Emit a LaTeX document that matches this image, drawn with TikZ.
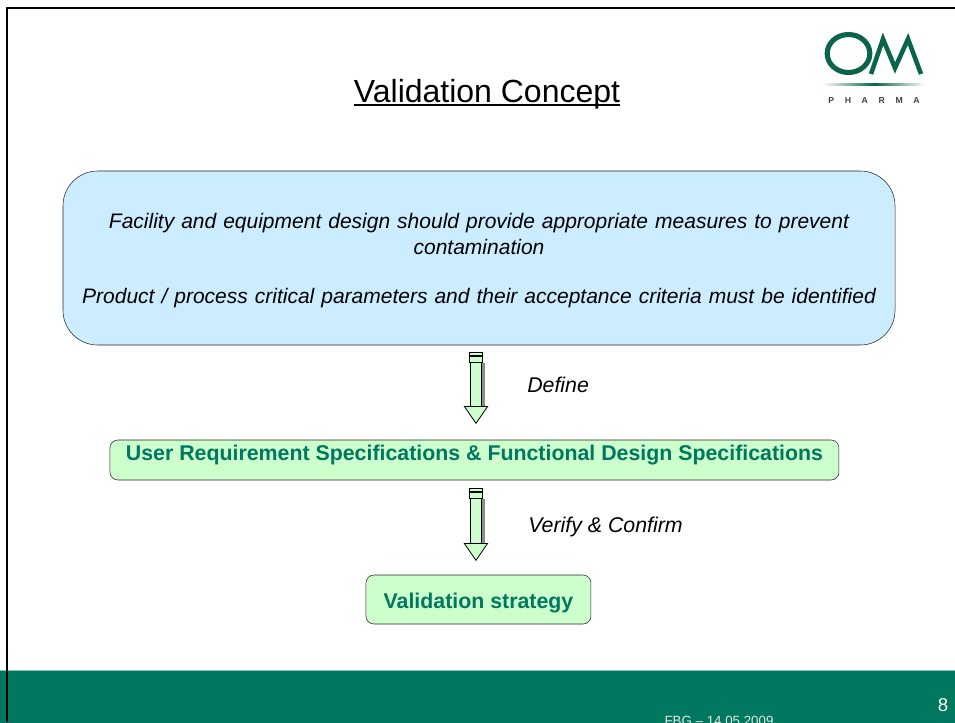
\documentclass[tikz,border=0pt]{standalone}
\usepackage{fontspec}
\setmainfont{Liberation Sans}
\usetikzlibrary{positioning, arrows.meta, shapes.geometric}
\definecolor{omgreen}{RGB}{0,120,96}
\definecolor{omdark}{RGB}{10,100,75}
\definecolor{mint}{RGB}{204,255,204}
\definecolor{skyblue}{RGB}{204,236,255}
\begin{document}
\begin{tikzpicture}[x=.75pt, y=-.75pt]
	% ----- Styles -----
	\tikzset{
		box/.style={
			rectangle, draw=black!85, outer sep=0pt, align=center
		},
		conceptbox/.style={
			box, fill=skyblue, rounded corners=26pt,
			minimum width=624pt, minimum height=130.5pt,
			text width=610pt, font=\fontsize{15.75}{19.5}\selectfont\itshape
		},
		greenbox/.style={
			box, fill=mint, rounded corners=6pt, text=omgreen,
			minimum height=30pt, font=\fontsize{16}{18}\selectfont\bfseries
		},
		stripe/.style={
			rectangle, draw, fill=mint, outer sep=0pt, inner sep=0pt,
			minimum width=10pt
		},
		label/.style={font=\fontsize{16}{18}\selectfont\itshape, inner sep=0pt},
		shadowarrow/.style={line width=10.5pt, draw=black!45, shorten <=.75pt, shorten >=24pt},
		fatarrow/.style={
			draw=black, line width=.6pt, double=mint, double distance=8pt,
			shorten <=.75pt, shorten >=12pt,
			-{Triangle[length=13.5pt, width=18.5pt, fill=mint]}
		}
	}
	% ----- Frame -----
	\clip (0,0) rectangle (955,722);
	\fill[white] (0,0) rectangle (955,722);
	\node (band) [rectangle, fill=omgreen, draw=none, minimum width=716.25pt, minimum height=39pt, outer sep=0pt, anchor=north west] at (0,670.5) {};
	\draw[white!55!omgreen, line width=.75pt] (band.north west) -- (band.north east);
	\draw[line width=2pt] (7,722) -- (7,8) -- (955,8);
	% ----- Title and logo -----
	\node (title) [font=\fontsize{24}{28}\selectfont, inner sep=0pt, anchor=base] at (487,102) {Validation Concept};
	\draw[line width=1.8pt] ([yshift=-2.4pt]title.base west) -- ([yshift=-2.4pt]title.base east);
	\node (logoO) [ellipse, draw=omdark, line width=3.8pt, minimum width=32pt, minimum height=28.5pt, inner sep=0pt] at (848.5,53.5) {};
	\draw[omdark, line width=3.4pt, line join=miter] (871,74) -- (883,39) -- (895,68) -- (908,39) -- (921,74);
	\shade[left color=white, right color=white, middle color=omdark] (823,83) rectangle (925,85);
	\node (logotext) [font=\fontsize{6.5}{7}\selectfont\bfseries, text=black!75, inner sep=0pt] at (874,100.5) {P\hspace{8pt}H\hspace{8pt}A\hspace{8pt}R\hspace{8pt}M\hspace{8pt}A};
	% ----- Nodes -----
	\node (concept) [conceptbox] at (479,258) {\rule{0pt}{15.5pt}Facility and equipment design should provide appropriate measures to prevent\\contamination\\[17.5pt]Product / process critical parameters and their acceptance criteria must be identified};
	\node (urs) [greenbox, minimum width=546.75pt, text depth=10.8pt, below=71.25pt of concept, xshift=-3.4pt] {User Requirement Specifications \& Functional Design Specifications};
	\node (strategy) [greenbox, minimum width=168.75pt, minimum height=36.75pt, text height=17.5pt, below=71.25pt of urs, xshift=3pt] {Validation strategy};
	% stripes on top of the arrows
	\node (stripeA) [stripe, minimum height=2.2pt, below=5.25pt of concept, xshift=-2.25pt] {};
	\node (stripeB) [stripe, minimum height=4.5pt, below=.75pt of stripeA] {};
	\node (stripeC) [stripe, minimum height=2.2pt, below=6pt of urs, xshift=1.1pt] {};
	\node (stripeD) [stripe, minimum height=4.5pt, below=.75pt of stripeC] {};
	\node (define) [label, anchor=west] at (527,385) {Define};
	\node (verify) [label, anchor=west] at (528,527) {Verify \& Confirm};
	\node (page) [font=\fontsize{14}{16}\selectfont, text=white, inner sep=0pt] at (943,705) {8};
	\node (footer) [font=\fontsize{10}{12}\selectfont, text=black!10!white, inner sep=0pt, anchor=base] at (719,725) {FBG – 14.05.2009};
	% ----- Arrows -----
	\draw[shadowarrow] ([xshift=1.5pt]stripeB.south) -- ([xshift=1.5pt]stripeB.south |- urs.north);
	\draw[shadowarrow, shorten >=22pt] ([xshift=1.5pt]stripeD.south) -- ([xshift=1.5pt]stripeD.south |- strategy.north);
	\draw[fatarrow] (stripeB.south) -- (stripeB.south |- urs.north);
	\draw[fatarrow, shorten >=10.5pt] (stripeD.south) -- (stripeD.south |- strategy.north);
\end{tikzpicture}
\end{document}
